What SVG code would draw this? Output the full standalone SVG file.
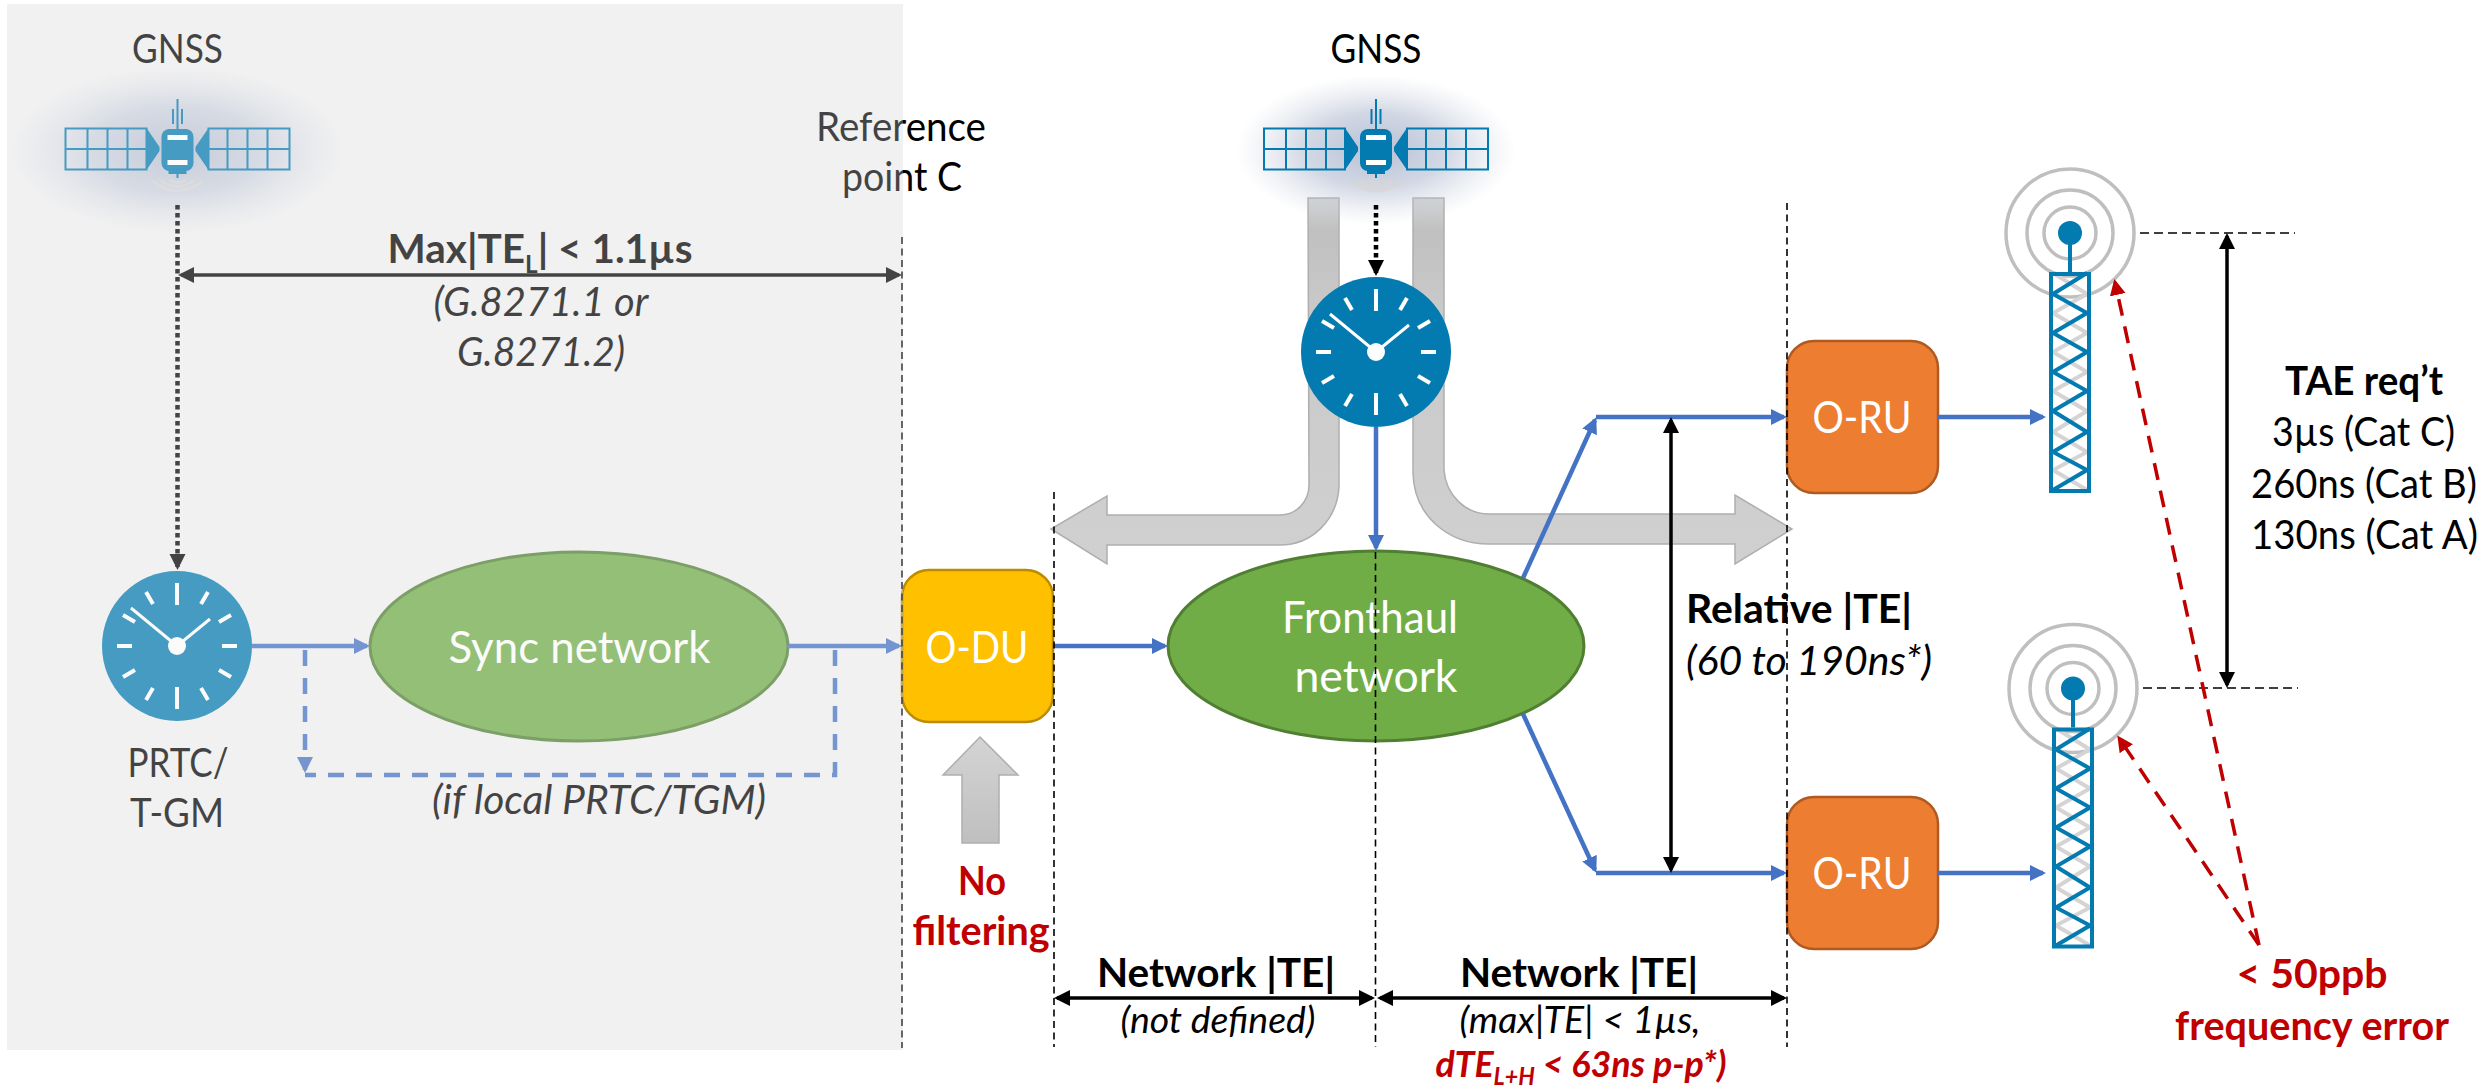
<svg xmlns="http://www.w3.org/2000/svg" xmlns:xlink="http://www.w3.org/1999/xlink" width="2491" height="1089" viewBox="0 0 2491 1089">
<style>
text{font-family:"Lato","Open Sans","Liberation Sans",sans-serif;font-size:40px;fill:#000;text-anchor:middle}
.b{font-weight:700}
.i{font-style:italic}
.r{fill:#C00000}
.w{fill:#fff;font-size:44px}
.s{font-size:37px}
.blue{fill:none;stroke:#4472C4;stroke-width:4.500}
.k{fill:none;stroke:#000;stroke-width:3.5}
.vd{fill:none;stroke:#000;stroke-width:1.6;stroke-dasharray:7 4.5}
.hd{fill:none;stroke:#000;stroke-width:1.6;stroke-dasharray:9 5}
.dot{fill:none;stroke:#000;stroke-width:4.5;stroke-dasharray:4.5 3.5}
.rd{fill:none;stroke:#C00000;stroke-width:3.5;stroke-dasharray:17 11}
.pipe{fill:url(#pg);stroke:#aeaeae;stroke-width:1.5}
.sb{fill:#037AB0}
.sl{fill:none;stroke:#037AB0}
.wave{fill:none;stroke:#d9d6d2;stroke-width:2.5}
.ring{fill:none;stroke:#bfbfbf;stroke-width:3.5}
</style>
<defs>
<linearGradient id="pg" gradientUnits="userSpaceOnUse" x1="0" y1="198" x2="0" y2="560">
<stop offset="0" stop-color="#d4d4d4"/><stop offset=".09" stop-color="#c0c0c0"/><stop offset=".3" stop-color="#c9c9c9"/><stop offset="1" stop-color="#d0d0d0"/>
</linearGradient>
<linearGradient id="ug" x1="0" y1="0" x2="0" y2="1">
<stop offset="0" stop-color="#d4d4d4"/><stop offset="1" stop-color="#bfbfbf"/>
</linearGradient>
<radialGradient id="glow">
<stop offset="0" stop-color="#a9b4cc" stop-opacity=".85"/><stop offset=".5" stop-color="#b4bdd2" stop-opacity=".6"/><stop offset="1" stop-color="#c8cfdd" stop-opacity="0"/>
</radialGradient>
<marker id="ab" markerUnits="userSpaceOnUse" markerWidth="18" markerHeight="18" refX="13" refY="8" orient="auto-start-reverse"><path d="M0 0L16 8L0 16Z" fill="#4472C4"/></marker>
<marker id="ak" markerUnits="userSpaceOnUse" markerWidth="18" markerHeight="18" refX="13" refY="8" orient="auto-start-reverse"><path d="M0 0L16 8L0 16Z" fill="#000"/></marker>
<marker id="ar" markerUnits="userSpaceOnUse" markerWidth="18" markerHeight="18" refX="13" refY="8" orient="auto-start-reverse"><path d="M0 0L16 8L0 16Z" fill="#C00000"/></marker>
<g id="sat">
<path class="sl" stroke-width="2" d="M-112 -20.500H-31V20.500H-112ZM-90 -20V20M-70 -20V20M-50 -20V20M-112 0H-31"/>
<path class="sl" stroke-width="2" d="M112 -20.500H31V20.500H112ZM90 -20V20M70 -20V20M50 -20V20M112 0H31"/>
<path class="sb" d="M-31 -21L-18 -2V2L-31 21ZM31 -21L18 -2V2L31 21Z"/>
<rect class="sb" x="-16" y="-20" width="32" height="42" rx="8"/>
<rect class="sb" x="-9" y="20" width="18" height="5"/>
<rect x="-10" y="-14" width="20" height="5" fill="#fff"/>
<rect x="-10" y="11" width="20" height="5" fill="#fff"/>
<path class="sl" stroke-width="2" d="M0 -50V-20M-4.500 -40V-25M4.500 -40V-25M0 22V29"/>
<path class="wave" d="M-8 31Q0 36 8 31M-17 31Q0 44 17 31M-25 32Q0 52 25 32" opacity=".8"/>
</g>
<g id="clock">
<circle r="75" class="sb"/>
<g stroke="#fff" stroke-width="4" fill="none">
<path d="M0 -63V-41M0 41V63M-60 0H-45M45 0H60"/>
<path d="M-31 -54L-24 -42M31 -54L24 -42M-54 -31L-42 -24M54 -31L42 -24M-54 31L-42 24M54 31L42 24M-31 54L-24 42M31 54L24 42"/>
<path stroke-width="3" d="M-46 -38L0 0L33 -27"/>
</g>
<circle r="9" fill="#fff"/>
</g>
<g id="tower">
<circle cx="2070" cy="233" r="64" class="ring"/><circle cx="2070" cy="233" r="43" class="ring"/><circle cx="2070" cy="233" r="26" class="ring"/>
<path fill="none" stroke="#d4d4d4" stroke-width="4" d="M2053 273L2087 294L2053 313L2087 333L2053 352L2087 372L2053 391L2087 411L2053 432L2087 452L2053 470L2087 490"/>
<path fill="none" stroke="#037AB0" stroke-width="4" d="M2087 273L2053 294L2087 313L2053 333L2087 352L2053 372L2087 391L2053 411L2087 432L2053 452L2087 470L2053 490"/>
<rect x="2051" y="274" width="38" height="217" fill="none" stroke="#037AB0" stroke-width="4"/>
<path d="M2070 233V272" stroke="#037AB0" stroke-width="4" fill="none"/>
<circle cx="2070" cy="233" r="12" class="sb"/>
</g>
</defs>

<rect id="panel" x="7" y="4" width="896" height="1046" fill="#F2F2F2"/>

<g id="sync-arrows">
<path class="pipe" d="M1308 198H1339V487C1337 520 1312 545 1280 545H1107V564L1051 529L1107 496V515H1280C1296 515 1309 502 1309 485Z"/>
<path class="pipe" d="M1413 198H1444V470C1446 495 1465 514 1489 514H1735V495L1792 529L1735 564V544H1489C1447 544 1414 515 1413 473Z"/>
<path class="pipe" style="fill:url(#ug)" d="M980 737L1018 775H999V843H962V775H943Z"/>
</g>

<g id="gnss-left">
<ellipse cx="177" cy="150" rx="170" ry="85" fill="url(#glow)"/>
<use href="#sat" x="177.500" y="149"/>
<text x="177.500" y="63" textLength="91" lengthAdjust="spacingAndGlyphs">GNSS</text>
</g>
<g id="gnss-right">
<ellipse cx="1376" cy="150" rx="140" ry="75" fill="url(#glow)"/>
<use href="#sat" x="1376" y="149"/>
<text x="1376" y="63" textLength="91" lengthAdjust="spacingAndGlyphs">GNSS</text>
</g>
<g id="clock-left">
<use href="#clock" x="177" y="646"/>
<text x="178" y="777" textLength="101" lengthAdjust="spacingAndGlyphs">PRTC/</text>
<text x="177" y="827" textLength="94" lengthAdjust="spacingAndGlyphs">T-GM</text>
</g>
<g id="clock-right"><use href="#clock" x="1376" y="352"/></g>
<g id="sync-network">
<ellipse cx="579" cy="646.500" rx="209" ry="94.500" fill="#70AD47" stroke="#507E32" stroke-width="3"/>
<text class="w" x="579.500" y="663" textLength="262" lengthAdjust="spacingAndGlyphs">Sync network</text>
</g>
<g id="fronthaul-network">
<ellipse cx="1376" cy="646" rx="208" ry="95" fill="#70AD47" stroke="#507E32" stroke-width="3"/>
<text class="w" x="1370" y="633" textLength="176" lengthAdjust="spacingAndGlyphs">Fronthaul</text>
<text class="w" x="1376" y="692" textLength="163" lengthAdjust="spacingAndGlyphs">network</text>
</g>
<g id="o-du">
<rect x="902" y="570" width="151" height="152" rx="27" fill="#FFC000" stroke="#BC8C00" stroke-width="2.500"/>
<text class="w" x="977" y="663" textLength="103" lengthAdjust="spacingAndGlyphs">O-DU</text>
</g>
<g id="o-ru-top">
<rect x="1787" y="341" width="151" height="152" rx="27" fill="#ED7D31" stroke="#AE5A21" stroke-width="2.500"/>
<text class="w" x="1862" y="433" textLength="99" lengthAdjust="spacingAndGlyphs">O-RU</text>
</g>
<g id="o-ru-bottom">
<rect x="1787" y="797" width="151" height="152" rx="27" fill="#ED7D31" stroke="#AE5A21" stroke-width="2.500"/>
<text class="w" x="1862" y="889" textLength="99" lengthAdjust="spacingAndGlyphs">O-RU</text>
</g>
<g id="tower-top"><use href="#tower"/></g>
<g id="tower-bottom"><use href="#tower" x="3" y="455.500"/></g>

<g id="labels">
<text x="901" y="141" textLength="170" lengthAdjust="spacingAndGlyphs">Reference</text>
<text x="902" y="191" textLength="120" lengthAdjust="spacingAndGlyphs">point C</text>
<text class="b" x="540" y="263" textLength="305" lengthAdjust="spacingAndGlyphs">Max|TE<tspan dy="10" style="font-size:24px">L</tspan><tspan dy="-10">| &lt; 1.1µs</tspan></text>
<text class="i" x="541" y="316" textLength="215" lengthAdjust="spacingAndGlyphs">(G.8271.1 or</text>
<text class="i" x="541" y="366" textLength="168" lengthAdjust="spacingAndGlyphs">G.8271.2)</text>
<text class="i" x="599" y="814" textLength="334" lengthAdjust="spacingAndGlyphs">(if local PRTC/TGM)</text>
<text class="b r" x="982" y="895" textLength="48" lengthAdjust="spacingAndGlyphs">No</text>
<text class="b r" x="981" y="945" textLength="137" lengthAdjust="spacingAndGlyphs">filtering</text>
<text class="b" x="1216" y="987" textLength="238" lengthAdjust="spacingAndGlyphs">Network |TE|</text>
<text class="i s" x="1218" y="1033" textLength="195" lengthAdjust="spacingAndGlyphs">(not defined)</text>
<text class="b" x="1579" y="987" textLength="238" lengthAdjust="spacingAndGlyphs">Network |TE|</text>
<text class="i s" x="1580" y="1033" textLength="241" lengthAdjust="spacingAndGlyphs">(max|TE| &lt; 1µs,</text>
<text class="b i r s" x="1581" y="1077" textLength="291" lengthAdjust="spacingAndGlyphs">dTE<tspan dy="8" style="font-size:24px">L+H</tspan><tspan dy="-8"> &lt; 63ns p-p*)</tspan></text>
<text class="b" x="1799" y="623" textLength="226" lengthAdjust="spacingAndGlyphs">Relative |TE|</text>
<text class="i" x="1809" y="675" textLength="246" lengthAdjust="spacingAndGlyphs">(60 to 190ns*)</text>
<text class="b" x="2364" y="395" textLength="158" lengthAdjust="spacingAndGlyphs">TAE req’t</text>
<text x="2363.500" y="446" textLength="183" lengthAdjust="spacingAndGlyphs">3µs (Cat C)</text>
<text x="2364" y="498" textLength="226" lengthAdjust="spacingAndGlyphs">260ns (Cat B)</text>
<text x="2364.500" y="549" textLength="227" lengthAdjust="spacingAndGlyphs">130ns (Cat A)</text>
<text class="b r" x="2312" y="988" textLength="151" lengthAdjust="spacingAndGlyphs">&lt; 50ppb</text>
<text class="b r" x="2312" y="1040" textLength="274" lengthAdjust="spacingAndGlyphs">frequency error</text>
</g>

<g id="connectors">
<line class="dot" x1="177.500" y1="205" x2="177.500" y2="567" marker-end="url(#ak)"/>
<line class="dot" x1="1376" y1="205" x2="1376" y2="273" marker-end="url(#ak)"/>
<line class="k" x1="181" y1="275" x2="899" y2="275" marker-start="url(#ak)" marker-end="url(#ak)"/>
<line class="blue" x1="252" y1="646" x2="367" y2="646" marker-end="url(#ab)"/>
<line class="blue" x1="788" y1="646" x2="899" y2="646" marker-end="url(#ab)"/>
<line class="blue" stroke-dasharray="16 12" x1="305" y1="650" x2="305" y2="770" marker-end="url(#ab)"/>
<path class="blue" stroke-dasharray="16 12" d="M835 650V775H305"/>
<line class="blue" x1="1053" y1="646" x2="1165" y2="646" marker-end="url(#ab)"/>
<line class="blue" x1="1376" y1="427" x2="1376" y2="548" marker-end="url(#ab)"/>
<line class="blue" x1="1523" y1="578" x2="1595" y2="420" marker-end="url(#ab)"/>
<line class="blue" x1="1523" y1="714" x2="1595" y2="870" marker-end="url(#ab)"/>
<line class="blue" x1="1596" y1="417" x2="1784" y2="417" marker-end="url(#ab)"/>
<line class="blue" x1="1596" y1="873" x2="1784" y2="873" marker-end="url(#ab)"/>
<line class="blue" x1="1938" y1="417" x2="2043" y2="417" marker-end="url(#ab)"/>
<line class="blue" x1="1938" y1="873" x2="2043" y2="873" marker-end="url(#ab)"/>
<line class="k" x1="1671" y1="420" x2="1671" y2="870" marker-start="url(#ak)" marker-end="url(#ak)"/>
<line class="k" x1="2227" y1="236" x2="2227" y2="685" marker-start="url(#ak)" marker-end="url(#ak)"/>
<line class="k" x1="1057" y1="998" x2="1372" y2="998" marker-start="url(#ak)" marker-end="url(#ak)"/>
<line class="k" x1="1380" y1="998" x2="1784" y2="998" marker-start="url(#ak)" marker-end="url(#ak)"/>
<line class="hd" x1="2140" y1="233" x2="2295" y2="233"/>
<line class="hd" x1="2143" y1="688" x2="2298" y2="688"/>
<line class="rd" x1="2259" y1="945" x2="2115" y2="282" marker-end="url(#ar)"/>
<line class="rd" x1="2259" y1="945" x2="2119" y2="738" marker-end="url(#ar)"/>
<line class="vd" x1="902" y1="237" x2="902" y2="1048"/>
<line class="vd" x1="1054" y1="492" x2="1054" y2="1047"/>
<line class="vd" x1="1375.500" y1="552" x2="1375.500" y2="1047"/>
<line class="vd" x1="1787" y1="203" x2="1787" y2="1047"/>
</g>

<rect id="panel-veil" x="7" y="4" width="896" height="1046" fill="#F2F2F2" fill-opacity=".28"/>
</svg>
